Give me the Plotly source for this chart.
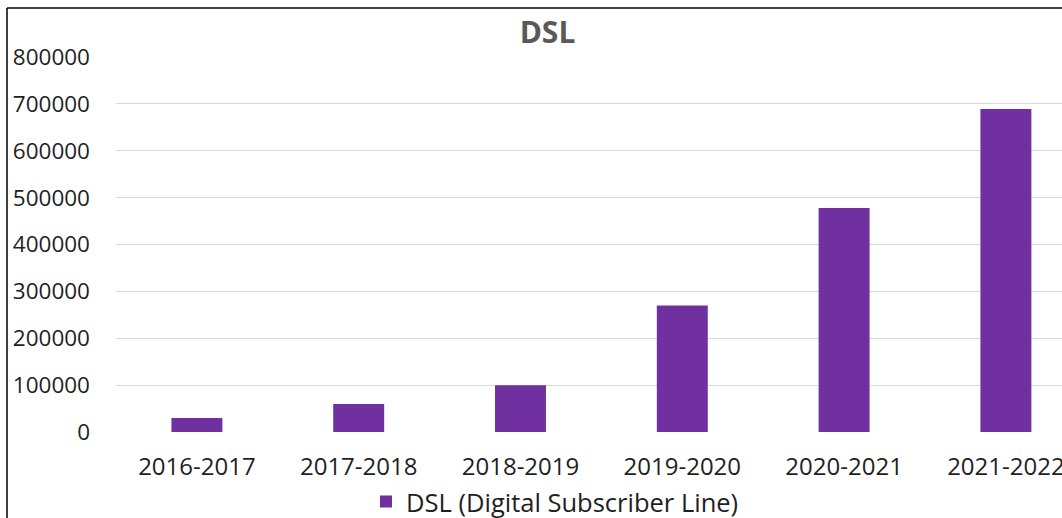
import plotly.graph_objects as go

categories = ["2016-2017", "2017-2018", "2018-2019", "2019-2020", "2020-2021", "2021-2022"]
dsl_values = [30000, 60000, 100000, 270000, 478000, 689000]
y_ticks = [0, 100000, 200000, 300000, 400000, 500000, 600000, 700000, 800000]
series_name = "DSL (Digital Subscriber Line)"

FONT = "Open Sans"
TXT = "#1f1f1f"

W, H = 1062, 518
L, R, T, B = 116, 0, 57, 86
pw, ph = W - L - R, H - T - B

fig = go.Figure()
fig.add_trace(go.Bar(
    x=list(range(len(categories))), y=dsl_values, name=series_name,
    marker=dict(color="#7030A0", line=dict(width=0)),
    showlegend=True,
))

step = 161.8
xmax = -0.5 + pw / step

def px_x(p):
    return (p - L) / pw

def px_y(p):
    return (H - B - p) / ph

fig.update_layout(
    width=W, height=H,
    margin=dict(l=L, r=R, t=T, b=B, autoexpand=False),
    paper_bgcolor="white", plot_bgcolor="white",
    font=dict(family=FONT, size=23, color=TXT),
    bargap=0.685,
    title=dict(text="<b>DSL</b>", font=dict(family=FONT, size=30, color="#595959"),
               x=px_x(547.5), xref="paper", xanchor="center",
               y=1 - 32 / H, yref="container", yanchor="middle"),
    xaxis=dict(range=[-0.5, xmax], tickmode="array",
               tickvals=list(range(len(categories))), ticktext=categories,
               showgrid=False, zeroline=False, showline=False, ticks="",
               automargin=False, ticklabeloverflow="allow",
               ticklabelstandoff=18, tickfont=dict(size=24, color=TXT)),
    yaxis=dict(range=[0, 800000], tickmode="array", tickvals=y_ticks,
               ticktext=[str(v) for v in y_ticks],
               showgrid=True, gridcolor="#d9d9d9", gridwidth=1,
               zeroline=False, showline=False, ticks="",
               automargin=False, ticklabeloverflow="allow",
               ticklabelstandoff=25, tickfont=dict(size=22.5, color=TXT)),
    legend=dict(orientation="h", x=px_x(366), xanchor="left",
                y=px_y(502), yanchor="middle",
                font=dict(size=25.5, color=TXT), bgcolor="rgba(0,0,0,0)"),
    shapes=[
        dict(type="line", xref="paper", yref="paper",
             x0=px_x(7), x1=px_x(7), y0=px_y(8), y1=px_y(H + 5),
             line=dict(color="black", width=1.5)),
        dict(type="line", xref="paper", yref="paper",
             x0=px_x(7), x1=px_x(W + 5), y0=px_y(8), y1=px_y(8),
             line=dict(color="black", width=1.5)),
    ],
)

fig.write_html(
    "out.html",
    config={"displayModeBar": False},
    post_script="document.body.style.margin='0';document.body.style.overflow='hidden';",
)
